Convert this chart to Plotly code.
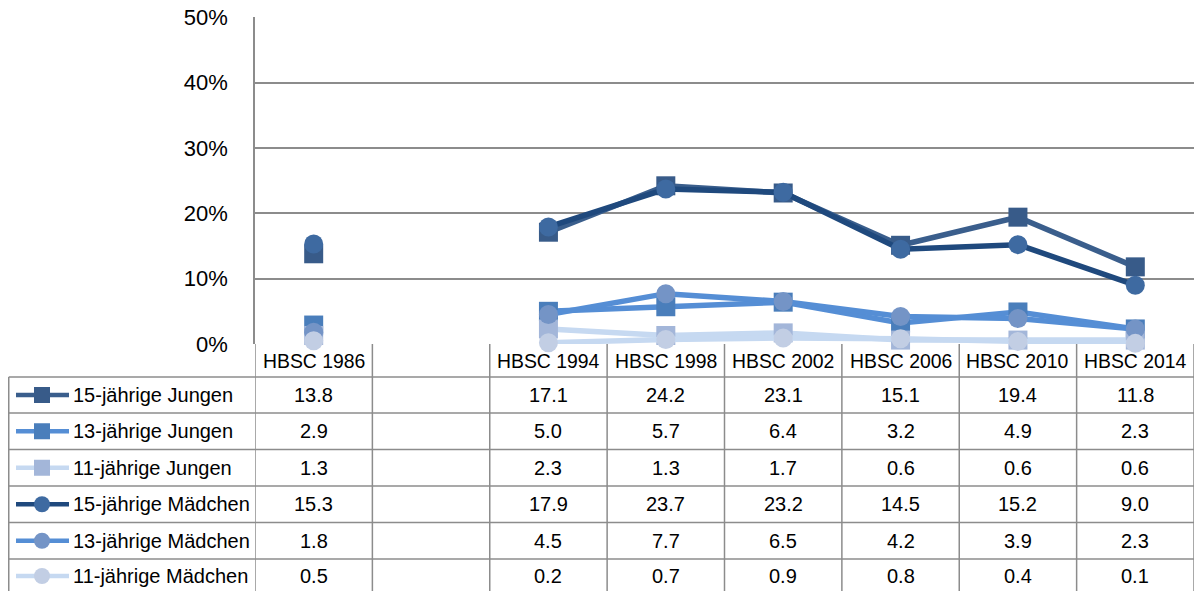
import plotly.graph_objects as go

categories = ["HBSC 1986", "", "HBSC 1994", "HBSC 1998", "HBSC 2002", "HBSC 2006", "HBSC 2010", "HBSC 2014"]
series_names = ["15-jährige Jungen", "13-jährige Jungen", "11-jährige Jungen",
                "15-jährige Mädchen", "13-jährige Mädchen", "11-jährige Mädchen"]
j15 = [13.8, None, 17.1, 24.2, 23.1, 15.1, 19.4, 11.8]
j13 = [2.9, None, 5.0, 5.7, 6.4, 3.2, 4.9, 2.3]
j11 = [1.3, None, 2.3, 1.3, 1.7, 0.6, 0.6, 0.6]
m15 = [15.3, None, 17.9, 23.7, 23.2, 14.5, 15.2, 9.0]
m13 = [1.8, None, 4.5, 7.7, 6.5, 4.2, 3.9, 2.3]
m11 = [0.5, None, 0.2, 0.7, 0.9, 0.8, 0.4, 0.1]
y_ticks = [0, 10, 20, 30, 40, 50]

series_values = [j15, j13, j11, m15, m13, m11]
line_colors = ["#3a5e8c", "#558ed5", "#c6d9f1", "#1f497d", "#558ed5", "#c6d9f1"]
marker_colors = ["#385b89", "#4a7ebb", "#a3b6d9", "#3e6aa1", "#7494c6", "#c2cee4"]
symbols = ["square", "square", "square", "circle", "circle", "circle"]

# body margin is removed by the post script, so figure pixel = screen pixel
W, H = 1194, 591
FONT = "Liberation Sans, Arial, sans-serif"
GRID = "#8c8c8c"

def px(x):
    return x / W

def py(y):
    return 1 - y / H

plot_left, plot_top, plot_bottom = 255, 17, 344
row_lines = [377, 413, 449.5, 486, 522.5, 559]
row_bottom = 595

xs = list(range(len(categories)))

fig = go.Figure()
for name, vals, lc, mc, sym in zip(series_names, series_values, line_colors, marker_colors, symbols):
    fig.add_trace(go.Scatter(
        x=xs, y=vals, name=name, mode="lines+markers",
        line=dict(color=lc, width=5.5),
        marker=dict(symbol=sym, size=19, color=mc, line=dict(width=0)),
        connectgaps=False, cliponaxis=False, showlegend=False,
    ))

shapes = []
for yl in row_lines:
    shapes.append(dict(type="line", xref="paper", yref="paper", x0=px(8.75), x1=1, y0=py(yl), y1=py(yl),
                       line=dict(color=GRID, width=1.5)))
shapes.append(dict(type="line", xref="paper", yref="paper", x0=px(8.75), x1=px(8.75), y0=py(row_lines[0]), y1=py(row_bottom),
                   line=dict(color=GRID, width=1.5)))
for k in range(len(categories) + 1):
    shapes.append(dict(type="line", xref="x", yref="paper", x0=k - 0.5, x1=k - 0.5, y0=py(plot_bottom), y1=py(row_bottom),
                       line=dict(color=GRID, width=1.5)))

annotations = []
for i, c in enumerate(categories):
    if c:
        annotations.append(dict(x=i, xref="x", y=py((plot_bottom + row_lines[0]) / 2), yref="paper",
                                text=c, showarrow=False, xanchor="center", yanchor="middle",
                                font=dict(family=FONT, size=19.4, color="#000000")))
row_edges = row_lines + [593]
for r, (name, vals, lc, mc, sym) in enumerate(zip(series_names, series_values, line_colors, marker_colors, symbols)):
    yc = (row_edges[r] + row_edges[r + 1]) / 2
    shapes.append(dict(type="line", xref="paper", yref="paper", x0=px(16), x1=px(69), y0=py(yc), y1=py(yc),
                       line=dict(color=lc, width=4.5)))
    s = 8
    shapes.append(dict(type="rect" if sym == "square" else "circle", xref="paper", yref="paper",
                       x0=px(42 - s), x1=px(42 + s), y0=py(yc - s), y1=py(yc + s),
                       fillcolor=mc, line=dict(width=0)))
    annotations.append(dict(x=px(71), xref="paper", y=py(yc), yref="paper", text=name, showarrow=False,
                            xanchor="left", yanchor="middle", font=dict(family=FONT, size=20, color="#000000")))
    for i, v in enumerate(vals):
        if v is None:
            continue
        annotations.append(dict(x=i, xref="x", y=py(yc), yref="paper", text=f"{v:.1f}", showarrow=False,
                                xanchor="center", yanchor="middle", font=dict(family=FONT, size=20, color="#000000")))

fig.update_layout(
    width=W, height=H,
    margin=dict(l=0, r=0, t=0, b=0, autoexpand=False),
    paper_bgcolor="white", plot_bgcolor="white",
    xaxis=dict(domain=[px(plot_left), 1], range=[-0.5, len(categories) - 0.5], showgrid=False,
               zeroline=False, showticklabels=False, showline=False, automargin=False),
    yaxis=dict(domain=[py(plot_bottom), py(plot_top)], range=[0, 50.02], tickvals=y_ticks,
               ticktext=[f"{t}%" for t in y_ticks], showgrid=True, gridcolor=GRID, gridwidth=1.5,
               zeroline=False, showline=True, linecolor=GRID, linewidth=1.5, automargin=False,
               ticklabeloverflow="allow",
               ticklabelstandoff=21, tickfont=dict(family=FONT, size=22, color="#000000")),
    shapes=shapes, annotations=annotations,
)

fig.write_html("out.html", config={"displayModeBar": False},
               post_script="document.body.style.margin='0';document.body.style.overflow='hidden';")
